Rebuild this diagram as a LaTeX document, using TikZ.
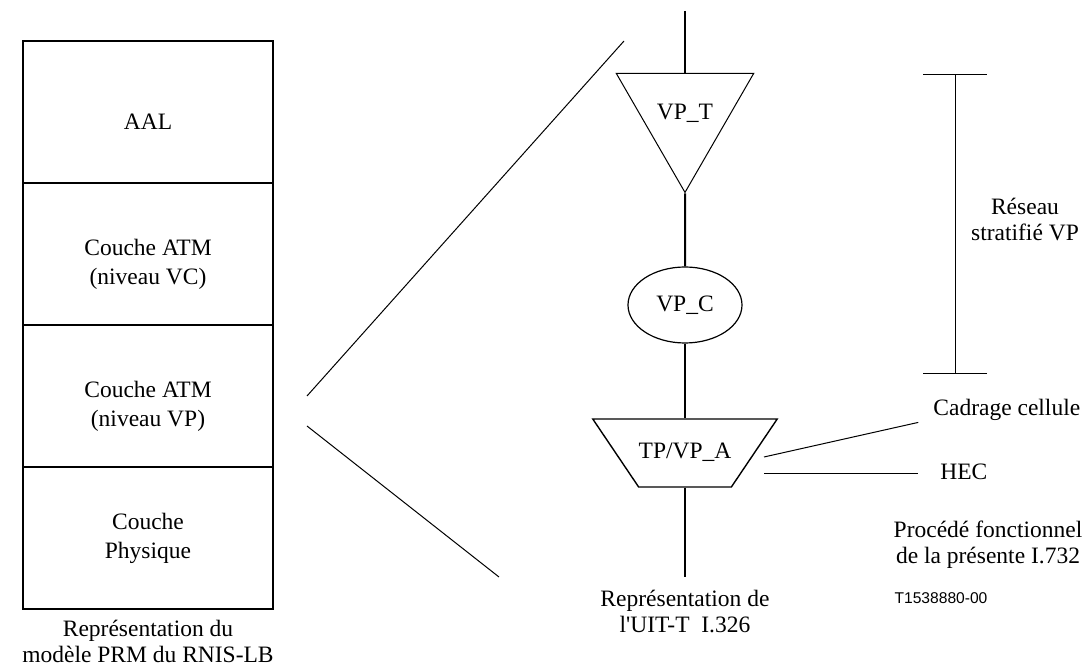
\documentclass[tikz,border=0pt]{standalone}
\usepackage{fontspec}
\setmainfont{Liberation Serif}
\newfontfamily\tagfont{Liberation Sans}
\usetikzlibrary{shapes.geometric, arrows.meta, positioning}

\begin{document}
\begin{tikzpicture}[
    x=0.5pt, y=-0.5pt,
    every node/.style={font=\fontsize{11.75}{13}\selectfont, align=center},
    layer/.style={rectangle, draw, line width=0.8pt, outer sep=0pt,
                  minimum width=125pt, minimum height=71pt,
                  font=\fontsize{11.75}{14.5}\selectfont},
    term/.style={regular polygon, regular polygon sides=3, shape border rotate=180,
                 draw, line width=0.5pt, minimum size=73.3pt, inner sep=0pt},
    conn/.style={ellipse, draw, line width=0.6pt, inner sep=0pt,
                 minimum width=57pt, minimum height=38pt},
    adapt/.style={trapezium, trapezium angle=56, trapezium stretches body,
                  shape border rotate=180, draw, line width=0.7pt,
                  inner xsep=0pt, inner ysep=12pt, text height=8pt, text depth=2pt,
                  minimum width=91pt},
    spine/.style={line width=1pt},
    zoomln/.style={line width=0.5pt},
    lead/.style={line width=0.5pt},
    span/.style={line width=0.5pt, {Bar[width=32pt]}-{Bar[width=32pt]}},
    lbl/.style={inner sep=2pt}
]
    \useasboundingbox (0,0) rectangle (1089,667);

    % PRM stack
    \node[layer, text height=17.5pt] (aal) at (148,112) {AAL};
    \node[layer, below=0pt of aal, text height=33pt] (vc) {Couche ATM\\(niveau VC)};
    \node[layer, below=0pt of vc, text height=33pt] (vp) {Couche ATM\\(niveau VP)};
    \node[layer, below=0pt of vp] (phy) {Couche\\Physique};
    \node[below=2pt of phy] (prm) {Représentation du\\modèle PRM du RNIS-LB};

    % VP layer network
    \coordinate (top) at (685,11);
    \coordinate (bot) at (685,577);
    \node[term] (vpt) at (685,113) {VP\_T};
    \node[conn] (vpc) at (685,305) {VP\_C};
    \node[adapt] (tpa) at (685,453) {TP/VP\_A};
    \node[below=3pt of bot] (itu) {Représentation de\\l\textquotesingle UIT-T\ \ I.326};

    \draw[spine] (top) -- (vpt.90);
    \draw[spine] (vpt.270) -- (vpc);
    \draw[spine] (vpc) -- (tpa.90);
    \draw[spine] (tpa.270) -- (bot);

    % zoom lines
    \coordinate (zA) at ([xshift=17pt]vp.east);
    \coordinate (zB) at ([xshift=17pt, yshift=-15pt]vp.east);
    \coordinate (zAend) at (624,41);
    \coordinate (zBend) at (499,577);
    \draw[zoomln] (zA) -- (zAend);
    \draw[zoomln] (zB) -- (zBend);

    % I.732 side
    \coordinate (vptop) at (955,74);
    \coordinate (vpbot) at (955,374);
    \draw[span] (vptop) -- (vpbot);
    \node (strat) at (1025,220) {Réseau\\stratifié VP};

    \coordinate (cadA) at (764,457);
    \coordinate (hecA) at (764,474);
    \node[lbl, anchor=west] (cad) at (929,410) {Cadrage cellule};
    \node[lbl, anchor=west] (hec) at (936,472) {HEC};
    \draw[lead, shorten >=5.5pt] (cadA) -- ([yshift=-5pt]cad.west);
    \draw[lead, shorten >=9pt] (hecA) -- ([yshift=-1pt]hec.west);

    \node (proc) at (988,545) {Procédé fonctionnel\\de la présente I.732};
    \node[font=\tagfont\fontsize{7.8}{9}\selectfont] (tag) at (941,598) {T1538880-00};
\end{tikzpicture}
\end{document}
